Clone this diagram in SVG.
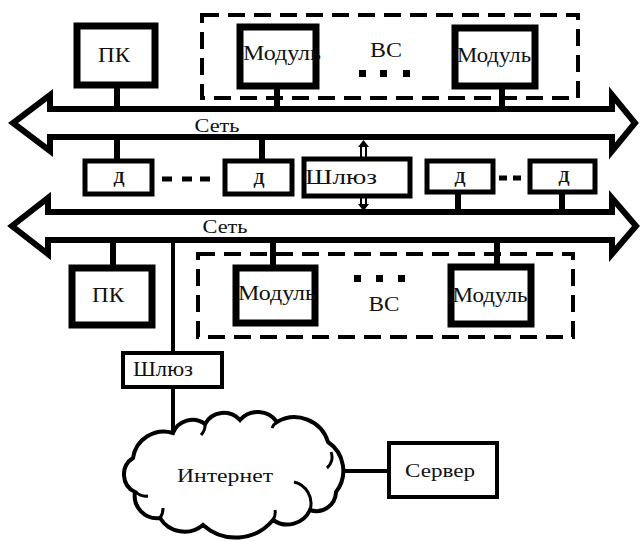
<svg xmlns="http://www.w3.org/2000/svg" width="642" height="542" viewBox="0 0 642 542" font-family="'Liberation Serif', 'DejaVu Serif', serif">
<style>
.bus{fill:#fff;stroke:#000;stroke-width:6;stroke-linejoin:miter}
.thick{fill:#fff;stroke:#000;stroke-width:7}
.med{fill:#fff;stroke:#000;stroke-width:5}
.thin{fill:#fff;stroke:#000;stroke-width:4}
.dash{fill:none;stroke:#000;stroke-width:4;stroke-dasharray:17 9}
.ln{stroke:#000;fill:none}
.t{font-family:'Liberation Serif','DejaVu Serif',serif;fill:#111;text-anchor:middle}
.b{font-weight:bold}
.dot{fill:#000}
</style>
<rect width="642" height="542" fill="#fff"/>
<g id="connectors">
  <path class="ln" stroke-width="6" d="M117,86 V109 M277,86 V109 M502,86 V109 M117,137 V159 M262,137 V159 M458,193 V212 M562,193 V212 M113,240 V266 M273,240 V266 M497,240 V266"/>
  <path class="ln" stroke-width="4" d="M173,240 V352 M173,388 V434 M340,471 H388"/>
  <path class="ln" stroke-width="2" d="M361,146 V157 M366,146 V157 M361,197 V205 M366,197 V205"/>
  <path d="M363.5,140 L358,147 L369,147 Z M363.5,211 L358,204 L369,204 Z" fill="#000"/>
  <path class="ln" stroke-width="5" d="M162,179 H172 M182,179 H192 M200,179 H210 M499,178 H507 M513,178 H521"/>
</g>
<g id="bus1">
  <path class="bus" d="M50,109 L50,95 L13,123 L50,151 L50,137 L612,137 L612,151 L635,123 L612,95 L612,109 Z"/>
  <text class="t" x="217" y="132" font-size="18" textLength="45" lengthAdjust="spacingAndGlyphs">Сеть</text>
</g>
<g id="bus2">
  <path class="bus" d="M48,212 L48,198 L12,226 L48,254 L48,240 L612,240 L612,254 L636,226 L612,198 L612,212 Z"/>
  <text class="t" x="225" y="233" font-size="18" textLength="45" lengthAdjust="spacingAndGlyphs">Сеть</text>
</g>
<g id="vs-top">
  <rect class="dash" x="202" y="15" width="376" height="83"/>
  <text class="t" x="386" y="57" font-size="20" textLength="32" lengthAdjust="spacingAndGlyphs">ВС</text>
  <rect class="dot" x="359" y="70" width="7" height="7"/>
  <rect class="dot" x="380" y="70" width="7" height="7"/>
  <rect class="dot" x="403" y="70" width="7" height="7"/>
</g>
<g id="pc-top">
  <rect class="thick" x="77" y="26" width="78" height="59"/>
  <text class="t" x="114" y="62" font-size="20" textLength="32" lengthAdjust="spacingAndGlyphs">ПК</text>
</g>
<g id="module-top-1">
  <rect class="thick" x="240" y="27" width="76" height="59"/>
  <text class="t" x="282" y="60" font-size="20" textLength="78" lengthAdjust="spacingAndGlyphs">Модуль</text>
</g>
<g id="module-top-2">
  <rect class="thick" x="455" y="28" width="80" height="58"/>
  <text class="t" x="494" y="62" font-size="20" textLength="74" lengthAdjust="spacingAndGlyphs">Модуль</text>
</g>
<g id="d1">
  <rect class="med" x="85" y="161" width="67" height="33"/>
  <text class="t b" x="119" y="183" font-size="16">Д</text>
</g>
<g id="d2">
  <rect class="med" x="225" y="161" width="67" height="33"/>
  <text class="t b" x="259" y="184" font-size="16">Д</text>
</g>
<g id="gateway-mid">
  <rect class="med" x="304" y="159" width="106" height="37"/>
  <text class="t" x="341" y="184" font-size="21" textLength="72" lengthAdjust="spacingAndGlyphs">Шлюз</text>
</g>
<g id="d3">
  <rect class="med" x="427" y="161" width="66" height="31"/>
  <text class="t b" x="460" y="183" font-size="16">Д</text>
</g>
<g id="d4">
  <rect class="med" x="530" y="161" width="65" height="31"/>
  <text class="t b" x="564" y="182" font-size="16">Д</text>
</g>
<g id="pc-bottom">
  <rect class="thick" x="72" y="268" width="80" height="57"/>
  <text class="t" x="108" y="302" font-size="20" textLength="32" lengthAdjust="spacingAndGlyphs">ПК</text>
</g>
<g id="vs-bottom">
  <rect class="dash" x="198" y="254" width="375" height="83"/>
  <rect class="dot" x="354" y="275" width="7" height="7"/>
  <rect class="dot" x="376" y="275" width="7" height="7"/>
  <rect class="dot" x="398" y="275" width="7" height="7"/>
  <text class="t" x="384" y="311" font-size="20" textLength="31" lengthAdjust="spacingAndGlyphs">ВС</text>
</g>
<g id="module-bottom-1">
  <rect class="thick" x="236" y="268" width="79" height="55"/>
  <text class="t" x="277" y="300" font-size="20" textLength="78" lengthAdjust="spacingAndGlyphs">Модуль</text>
</g>
<g id="module-bottom-2">
  <rect class="thick" x="451" y="267" width="80" height="57"/>
  <text class="t" x="490" y="302" font-size="20" textLength="75" lengthAdjust="spacingAndGlyphs">Модуль</text>
</g>
<g id="gateway-bottom">
  <rect class="thin" x="123" y="353" width="99" height="34"/>
  <text class="t" x="163" y="376" font-size="20" textLength="60" lengthAdjust="spacingAndGlyphs">Шлюз</text>
</g>
<g id="internet">
  <path fill="#fff" stroke="#000" stroke-width="4" d="M133,458 A31,31 0 0 1 173,433 A21,21 0 0 1 205,424 A21.5,21.5 0 0 1 240,420 A23.5,23.5 0 0 1 277,422 A35,35 0 0 1 328,442 A34.6,34.6 0 0 1 336,492 A19.6,19.6 0 0 1 310,510 A25,25 0 0 1 273,520 A48.6,48.6 0 0 1 203,525 A28.8,28.8 0 0 1 160,518 A22.5,22.5 0 0 1 135,492 A19.5,19.5 0 0 1 133,458 Z"/>
  <path fill="none" stroke="#000" stroke-width="3" d="M201,435 A14,14 0 0 0 205,424 M272,428 A14,14 0 0 1 277,422 M327,468 A14,14 0 0 0 331,452 M294,482 A22,22 0 0 1 310,510 M136,492 A14,14 0 0 0 148,496 M160,518 A16,16 0 0 0 163,508 M273,520 A14,14 0 0 0 275,510"/>
  <text class="t" x="225" y="482" font-size="18" textLength="96" lengthAdjust="spacingAndGlyphs">Интернет</text>
</g>
<g id="server">
  <rect class="thin" x="389" y="443" width="108" height="54"/>
  <text class="t" x="440" y="477" font-size="18" textLength="70" lengthAdjust="spacingAndGlyphs">Сервер</text>
</g>
</svg>
